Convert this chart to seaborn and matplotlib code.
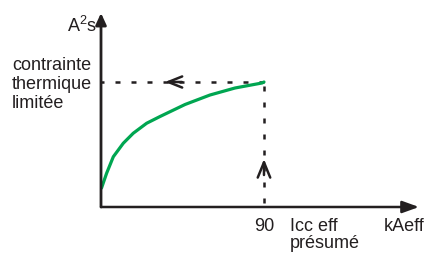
import matplotlib
matplotlib.use("Agg")
import matplotlib.pyplot as plt
import seaborn as sns

# curve (kA eff -> % of limited thermal stress)
icc = [0.3, 3.1, 6.8, 12.3, 17.8, 25.2, 32.6, 46.4, 60.2, 74.0, 88.9, 90]
i2t = [15.2, 27.0, 40.2, 51.0, 59.0, 67.0, 72.4, 82.0, 89.6, 95.2, 99.2, 100]

icc_limit = 90
i2t_limit = 100

ink = "#231f20"
green = "#00a651"

sns.set_theme(style="white")
plt.rcParams["font.family"] = ["Liberation Sans", "DejaVu Sans"]
plt.rcParams["mathtext.fontset"] = "custom"
plt.rcParams["mathtext.rm"] = "Liberation Sans"
plt.rcParams["mathtext.it"] = "Liberation Sans"

W, H = 424, 258
fig = plt.figure(figsize=(W / 100, H / 100), dpi=100)


def px(x, y):
    return x / W, 1 - y / H


ax = fig.add_axes([101 / W, (H - 207) / H, (419 - 101) / W, (207 - 13) / H])
ax.set_xlim(0, 175.6)
ax.set_ylim(0, 155.2)
for s in ax.spines.values():
    s.set_visible(False)
ax.set_xticks([])
ax.set_yticks([])
ax.patch.set_alpha(0)

# axes with arrows
ax.annotate("", xy=(1, 0), xytext=(0, 0), xycoords="axes fraction",
            arrowprops=dict(arrowstyle="-|>,head_length=0.5,head_width=0.18",
                            color=ink, lw=1.8, mutation_scale=20,
                            shrinkA=0, shrinkB=0), annotation_clip=False)
ax.annotate("", xy=(0, 1), xytext=(0, 0), xycoords="axes fraction",
            arrowprops=dict(arrowstyle="-|>,head_length=0.35,head_width=0.16",
                            color=ink, lw=2, mutation_scale=20,
                            shrinkA=0, shrinkB=0), annotation_clip=False)

# dashed guides
ax.plot([icc_limit, 0], [i2t_limit, i2t_limit], color=ink, lw=1.8,
        ls=(0, (2, 4.4)), solid_capstyle="butt")
ax.plot([icc_limit, icc_limit], [96.8, 0], color=ink, lw=1.8,
        ls=(0, (2, 4.4)), solid_capstyle="butt")

# open chevrons on the guides
ax.annotate("", xy=(35.3, i2t_limit), xytext=(44.7, i2t_limit),
            arrowprops=dict(arrowstyle="->,head_length=1.0,head_width=0.4",
                            color=ink, lw=1.8, mutation_scale=10,
                            shrinkA=0, shrinkB=0))
ax.annotate("", xy=(icc_limit, 38.4), xytext=(icc_limit, 25.6),
            arrowprops=dict(arrowstyle="->,head_length=1.1,head_width=0.45",
                            color=ink, lw=1.8, mutation_scale=10,
                            shrinkA=0, shrinkB=0))

sns.lineplot(x=icc, y=i2t, ax=ax, color=green, linewidth=2.3,
             sort=False, estimator=None)
ax.set_xlabel("")
ax.set_ylabel("")

fs = 13
fig.text(*px(97, 32), "A$^2$s", fontsize=fs, color=ink, ha="right", va="baseline")
fig.text(*px(12, 70), "contrainte", fontsize=fs, color=ink, ha="left", va="baseline")
fig.text(*px(12, 89), "thermique", fontsize=fs, color=ink, ha="left", va="baseline")
fig.text(*px(12, 108), "limitée", fontsize=fs, color=ink, ha="left", va="baseline")
fig.text(*px(264.5, 231), "90", fontsize=fs, color=ink, ha="center", va="baseline")
fig.text(*px(290, 231), "Icc eff", fontsize=fs, color=ink, ha="left", va="baseline")
fig.text(*px(290, 248), "présumé", fontsize=fs, color=ink, ha="left", va="baseline")
fig.text(*px(384, 231), "kAeff", fontsize=fs, color=ink, ha="left", va="baseline")

fig.savefig("out.png", dpi=100, facecolor="white")
